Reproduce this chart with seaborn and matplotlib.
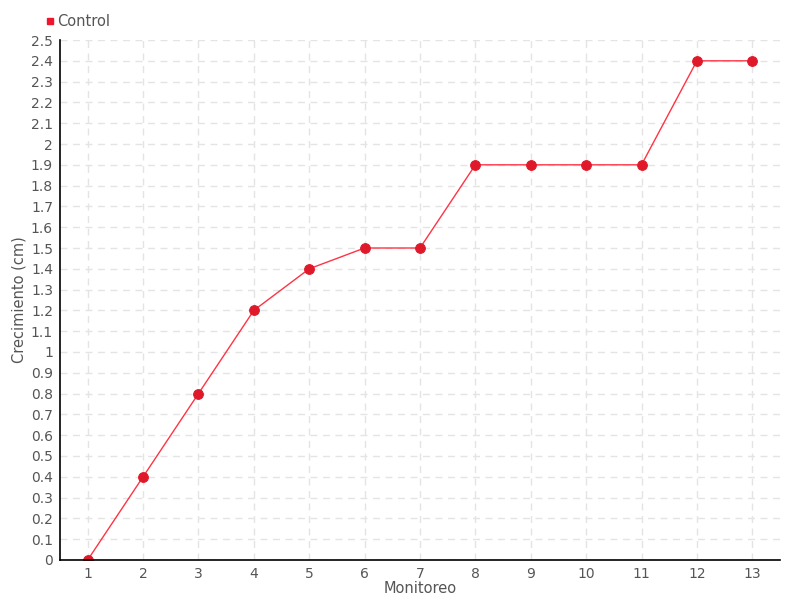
import numpy as np
import pandas as pd
import seaborn as sns
import matplotlib.pyplot as plt
from matplotlib.ticker import FuncFormatter
from matplotlib.lines import Line2D

monitoreo = [1, 2, 3, 4, 5, 6, 7, 8, 9, 10, 11, 12, 13]
control = [0, 0.4, 0.8, 1.2, 1.4, 1.5, 1.5, 1.9, 1.9, 1.9, 1.9, 2.4, 2.4]
serie = "Control"


def main():
    df = pd.DataFrame({"Monitoreo": monitoreo, "Crecimiento": control})

    sns.set_style("white")
    plt.rcParams['font.family'] = ['DejaVu Sans']

    fig = plt.figure(figsize=(8, 6), dpi=100)
    ax = fig.add_axes([0.075, 0.0667, 0.9, 0.8666])

    sns.lineplot(data=df, x="Monitoreo", y="Crecimiento", ax=ax,
                 color="#ff3344", linewidth=1, marker="o", markersize=7,
                 markerfacecolor="#e0192a", markeredgecolor="#e0192a")

    ax.set_xlim(0.5, 13.5)
    ax.set_ylim(0, 2.5)
    ax.set_xticks(monitoreo)
    ax.set_yticks(np.round(np.arange(0, 2.51, 0.1), 1))
    ax.yaxis.set_major_formatter(FuncFormatter(lambda v, p: "%g" % round(v, 1)))

    ax.grid(True, linestyle=(0, (5, 4)), color="#e4e4e4", linewidth=1)
    for s in ["top", "right"]:
        ax.spines[s].set_visible(False)
    for s in ["left", "bottom"]:
        ax.spines[s].set_color("black")
        ax.spines[s].set_linewidth(1.2)

    ax.tick_params(axis="both", direction="inout", length=7, width=1.2,
                   colors="black", labelcolor="#555555", labelsize=10, pad=1.5)

    ax.set_xlabel("Monitoreo", color="#555555", fontsize=10.5)
    ax.xaxis.set_label_coords(0.5, -0.041)
    ax.set_ylabel("Crecimiento (cm)", color="#555555", fontsize=10.5)
    ax.yaxis.set_label_coords(-0.047, 0.5)

    handle = Line2D([], [], marker="s", color="none", markerfacecolor="#f0152d",
                    markeredgecolor="#f0152d", markersize=5)
    fig.legend([handle], [serie], loc="upper left", bbox_to_anchor=(0.041, 0.998),
               frameon=False, handlelength=0.6, handletextpad=0.2,
               labelcolor="#555555", fontsize=10.5)

    plt.savefig("out.png", dpi=100)


if __name__ == "__main__":
    main()
